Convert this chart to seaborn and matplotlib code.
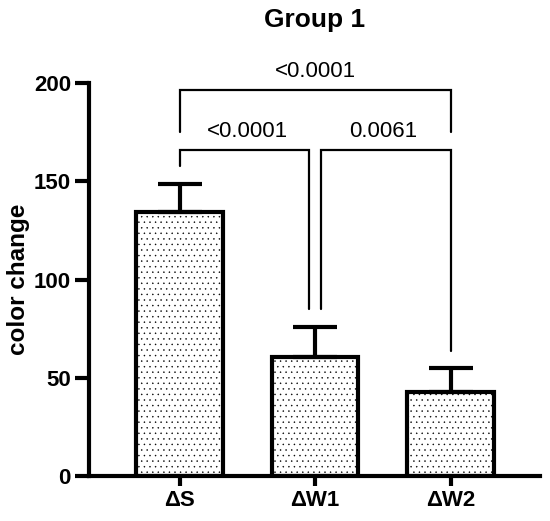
import matplotlib
matplotlib.use("Agg")
import matplotlib.pyplot as plt
import seaborn as sns
import pandas as pd
import numpy as np

categories = ["ΔS", "ΔW1", "ΔW2"]
means = [134.5, 60.5, 42.5]
errors = [14.0, 15.2, 12.3]
yticks = [0, 50, 100, 150, 200]

# significance comparisons: (i, j, height, left leg bottom, right leg bottom, label)
comp_pairs = [(0, 1), (1, 2), (0, 2)]
comp_heights = [165.7, 165.7, 196.2]
comp_left_low = [157.6, 84.9, 175.0]
comp_right_low = [84.9, 63.7, 175.0]
comp_labels = ["<0.0001", "0.0061", "<0.0001"]

sns.set_theme(style="ticks")
plt.rcParams['font.family'] = ['Liberation Sans', 'DejaVu Sans']
plt.rcParams['hatch.linewidth'] = 0.3
plt.rcParams['hatch.color'] = 'black'
plt.rcParams['text.color'] = 'black'
plt.rcParams['axes.labelcolor'] = 'black'
plt.rcParams['xtick.color'] = 'black'
plt.rcParams['ytick.color'] = 'black'

fig = plt.figure(figsize=(5.5, 5.21), dpi=100)
ax = fig.add_axes([89/550, 1-476/521, (540-89)/550, (476-83)/521])

df = pd.DataFrame({"group": categories, "value": means})
sns.barplot(data=df, x="group", y="value", ax=ax, color="white",
            edgecolor="black", linewidth=3, width=0.64, errorbar=None,
            hatch="...", saturation=1)
for p in ax.patches:
    p.set_hatch("...")
    p.set_edgecolor("black")

x = np.arange(len(categories))
ax.errorbar(x, means, yerr=[np.zeros(len(means)), errors], fmt="none",
            ecolor="black", elinewidth=3, capsize=16, capthick=3, zorder=1)

# brackets
off = 0.044
for (i, j), h, lo1, lo2, lab in zip(comp_pairs, comp_heights, comp_left_low, comp_right_low, comp_labels):
    xi = i + (off if (i == 1) else 0)
    xj = j - (off if (j == 1) else 0)
    ax.plot([xi, xi, xj, xj], [lo1, h, h, lo2], color="black", lw=1.6,
            solid_joinstyle="miter", clip_on=False)
    ax.text((i + j) / 2, h + 4.5, lab, ha="center", va="bottom", fontsize=16,
            color="black", clip_on=False)

ax.set_xlim(-0.668, 2.66)
ax.set_ylim(0, 200)
ax.set_yticks(yticks)
ax.set_yticklabels([str(t) for t in yticks], fontsize=16, fontweight="bold")
ax.set_xticks(x)
ax.set_xticklabels(categories, fontsize=16, fontweight="bold")
ax.set_xlabel("")
ax.set_ylabel("color change", fontsize=17.5, fontweight="bold", labelpad=3)
ax.set_title("Group 1", fontsize=19, fontweight="bold", pad=40, color="black")

for s in ["top", "right"]:
    ax.spines[s].set_visible(False)
for s in ["left", "bottom"]:
    ax.spines[s].set_linewidth(3)
    ax.spines[s].set_color("black")
ax.tick_params(axis="y", length=10, width=3, color="black", pad=3)
ax.tick_params(axis="x", length=7, width=3, color="black", pad=3)

fig.savefig("out.png", dpi=100)
